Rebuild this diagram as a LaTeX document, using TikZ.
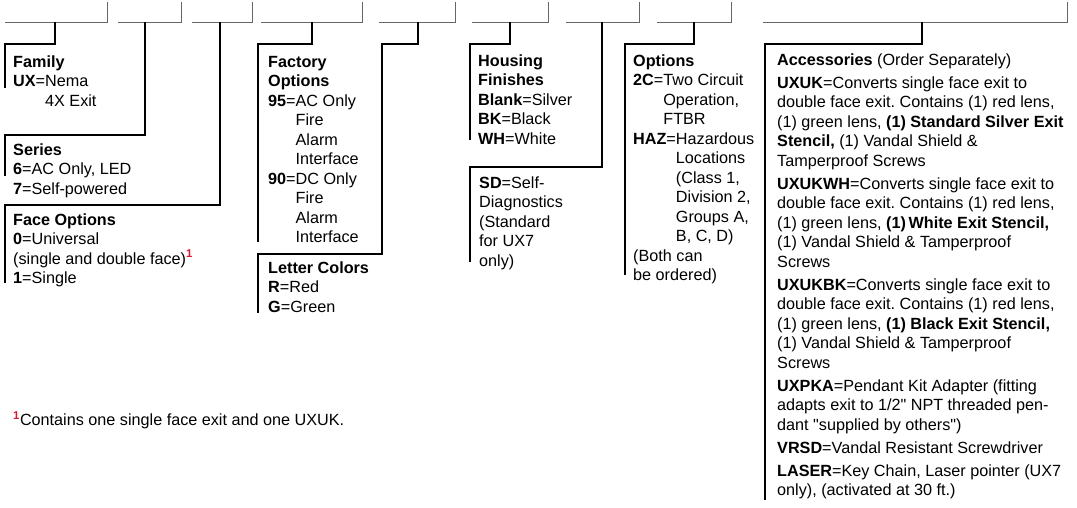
\documentclass[tikz,border=0pt]{standalone}
\usepackage{fontspec}
\setmainfont{Liberation Sans}
\usepackage{tikz}
\usetikzlibrary{calc}
\definecolor{notered}{RGB}{215,25,55}
\frenchspacing
\newcommand{\indcod}[1]{\phantom{\textbf{#1}=}}
\newcommand{\notarif}{\textsuperscript{\textcolor{notered}{\textbf{1}}}}
\newcommand{\primariga}{\rule{0pt}{13pt}}

\tikzset{
  blank/.style={draw=black!60, line width=0.9pt},
  leader/.style={line width=2.6pt},
  blocco/.style={anchor=north west, align=left, inner sep=0pt,
    font=\fontsize{16.2}{19.5}\selectfont}
}

\begin{document}
\begin{tikzpicture}[x=1pt, y=-1pt]
    \useasboundingbox (0,0) rectangle (1077,508);

    % Caselle del codice (linea sottile grigia con tacca a destra)
    \foreach \xa/\xb/\xm/\n in {5/107/55/1, 118/181/145/2, 192/252/220/3,
        261/362/312/4, 379/455/418/5, 472/548/510/6, 566/639/602/7,
        657/731/694/8, 763/1067/922/9} {
        \draw[blank] (\xa,22) -- (\xb,22) -- (\xb,2);
        \coordinate (b\n) at (\xm,22);
    }

    % Angoli e terminali dei collegamenti
    \coordinate (k1) at (5,44);    \coordinate (e1) at (5,88);
    \coordinate (k2) at (5,135);   \coordinate (e2) at (5,176);
    \coordinate (k3) at (5,205);   \coordinate (e3) at (5,283);
    \coordinate (k4) at (258,44);  \coordinate (e4) at (258,242);
    \coordinate (k5) at (382,44);  \coordinate (j5) at (382,254);
    \coordinate (e5) at (258,313);
    \coordinate (k6) at (470,44);  \coordinate (e6) at (470,140);
    \coordinate (k7) at (470,167); \coordinate (e7) at (470,262);
    \coordinate (k8) at (625,44);  \coordinate (e8) at (625,275);
    \coordinate (k9) at (765,44);  \coordinate (e9) at (765,500);

    % Collegamenti (tratto nero spesso)
    \draw[leader] (b1) |- (k1) -- (e1);
    \draw[leader] (b2) |- (k2) -- (e2);
    \draw[leader] (b3) |- (k3) -- (e3);
    \draw[leader] (b4) |- (k4) -- (e4);
    \draw[leader] (b5) |- (k5) -- (j5) -| (e5);
    \draw[leader] (b6) |- (k6) -- (e6);
    \draw[leader] (b7) |- (k7) -- (e7);
    \draw[leader] (b8) |- (k8) -- (e8);
    \draw[leader] (b9) |- (k9) -- (e9);

    % Testi (angolo in alto = linea di base della prima riga - 13)
    \node[blocco] (fam) at (13,54) {\primariga\textbf{Family}\\
        \textbf{UX}=Nema\\ \indcod{UX}4X Exit};
    \node[blocco] (ser) at (13,142) {\primariga\textbf{Series}\\
        \textbf{6}=AC Only, LED\\ \textbf{7}=Self-powered};
    \node[blocco] (face) at (13,212) {\primariga\textbf{Face Options}\\
        \textbf{0}=Universal\\ (single and double face)\notarif\\
        \textbf{1}=Single};
    \node[blocco] (fact) at (268,54) {\primariga\textbf{Factory}\\ \textbf{Options}\\
        \textbf{95}=AC Only\\ \indcod{95}Fire\\ \indcod{95}Alarm\\
        \indcod{95}Interface\\ \textbf{90}=DC Only\\ \indcod{90}Fire\\
        \indcod{90}Alarm\\ \indcod{90}Interface};
    \node[blocco] (lett) at (268,260) {\primariga\textbf{Letter Colors}\\
        \textbf{R}=Red\\ \textbf{G}=Green};
    \node[blocco] (hous) at (478,53) {\primariga\textbf{Housing}\\ \textbf{Finishes}\\
        \textbf{Blank}=Silver\\ \textbf{BK}=Black\\ \textbf{WH}=White};
    \node[blocco] (sd) at (479,175) {\primariga\textbf{SD}=Self-\\ Diagnostics\\
        (Standard\\ for UX7\\ only)};
    \node[blocco] (opt) at (633,53) {\primariga\textbf{Options}\\
        \textbf{2C}=Two Circuit\\ \indcod{2C}Operation,\\ \indcod{2C}FTBR\\
        \textbf{HAZ}=Hazardous\\ \indcod{HAZ}Locations\\ \indcod{HAZ}(Class 1,\\
        \indcod{HAZ}Division 2,\\ \indcod{HAZ}Groups A,\\ \indcod{HAZ}B, C, D)\\
        (Both can\\ be ordered)};
    \node[blocco] (acc) at (777,52) {\primariga\textbf{Accessories} (Order Separately)\\[3.5pt]
        \textbf{UXUK}=Converts single face exit to\\
        double face exit. Contains (1) red lens,\\
        (1) green lens, \textbf{(1) Standard Silver Exit}\\
        \textbf{Stencil,} (1) Vandal Shield \&\\
        Tamperproof Screws\\[3.5pt]
        \textbf{UXUKWH}=Converts single face exit to\\
        double face exit. Contains (1) red lens,\\
        (1) green lens, \textbf{(1)\,White Exit Stencil,}\\
        (1) Vandal Shield \& Tamperproof\\
        Screws\\[3.5pt]
        \textbf{UXUKBK}=Converts single face exit to\\
        double face exit. Contains (1) red lens,\\
        (1) green lens, \textbf{(1) Black Exit Stencil,}\\
        (1) Vandal Shield \& Tamperproof\\
        Screws\\[3.5pt]
        \textbf{UXPKA}=Pendant Kit Adapter (fitting\\
        adapts exit to 1/2\textquotedbl{} NPT threaded pen-\\
        dant \textquotedbl supplied by others\textquotedbl)\\[3.5pt]
        \textbf{VRSD}=Vandal Resistant Screwdriver\\[3.5pt]
        \textbf{LASER}=Key Chain, Laser pointer (UX7\\
        only), (activated at 30 ft.)};
    \node[blocco] (nota) at (13,411) {\primariga\notarif Contains one single face exit and one UXUK.};
\end{tikzpicture}
\end{document}
